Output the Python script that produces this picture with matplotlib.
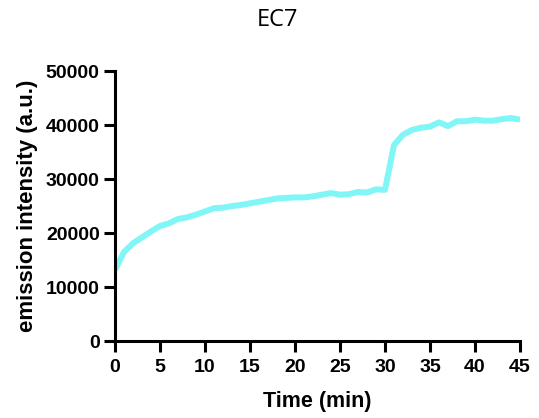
import numpy as np
import matplotlib.pyplot as plt

# time points (min) and emission intensity
time_min = list(range(0, 46))
intensity = [13200, 16500, 18100, 19200, 20300, 21300, 21800, 22600, 22900, 23400,
             24000, 24600, 24700, 25000, 25200, 25500, 25800, 26100, 26400, 26500,
             26600, 26600, 26800, 27100, 27400, 27100, 27200, 27600, 27500, 28100,
             28000, 36300, 38200, 39100, 39500, 39700, 40500, 39800, 40700, 40700,
             41000, 40800, 40800, 41100, 41300, 41000]
x_ticks = [0, 5, 10, 15, 20, 25, 30, 35, 40, 45]
y_ticks = [0, 10000, 20000, 30000, 40000, 50000]

plt.rcParams['font.family'] = ['Liberation Sans', 'DejaVu Sans']

fig = plt.figure(figsize=(5.39, 4.18), dpi=100)
ax = fig.add_axes([0.2134, 0.1842, 0.7513, 0.6458])

ax.plot(time_min, intensity, color='#80f6f6', lw=4.3, solid_capstyle='butt')

ax.set_xlim(0, 45)
ax.set_ylim(0, 50000)
ax.set_xticks(x_ticks)
ax.set_yticks(y_ticks)
ax.set_xticklabels([str(v) for v in x_ticks], fontweight='bold', fontsize=14)
ax.set_yticklabels([str(v) for v in y_ticks], fontweight='bold', fontsize=14)

for s in ['top', 'right']:
    ax.spines[s].set_visible(False)
for s in ['left', 'bottom']:
    ax.spines[s].set_linewidth(2.2)
ax.tick_params(width=2.2, length=8, direction='out')
ax.tick_params(axis='x', pad=5)
ax.tick_params(axis='y', pad=3)

ax.set_xlabel('Time (min)', fontweight='bold', fontsize=15.5, labelpad=10.5)
ax.set_ylabel('emission intensity (a.u.)', fontweight='bold', fontsize=16, labelpad=6)

fig.text(0.514, 0.952, 'EC7', ha='center', va='center', fontsize=17, family=['Open Sans', 'DejaVu Sans'])

fig.savefig('out.png', dpi=100)
